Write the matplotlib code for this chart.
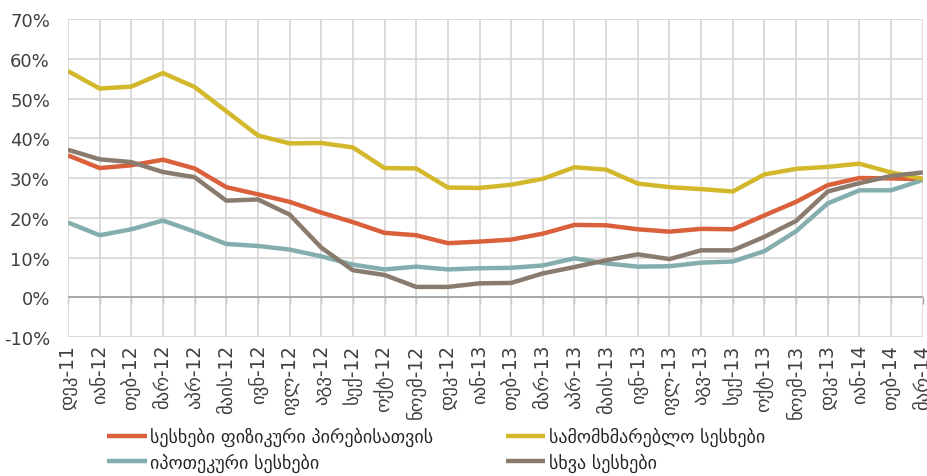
import matplotlib
matplotlib.use('Agg')
import matplotlib.pyplot as plt
import numpy as np
from matplotlib.ticker import FuncFormatter

plt.rcParams['font.family'] = ['DejaVu Sans']

# Months, Dec 2011 - Mar 2014
months = ['დეკ-11', 'იან-12', 'თებ-12', 'მარ-12', 'აპრ-12', 'მაის-12', 'ივნ-12',
          'ივლ-12', 'აგვ-12', 'სექ-12', 'ოქტ-12', 'ნოემ-12', 'დეკ-12', 'იან-13',
          'თებ-13', 'მარ-13', 'აპრ-13', 'მაის-13', 'ივნ-13', 'ივლ-13', 'აგვ-13',
          'სექ-13', 'ოქტ-13', 'ნოემ-13', 'დეკ-13', 'იან-14', 'თებ-14', 'მარ-14']

# Growth rates, %
individuals = [35.7, 32.5, 33.2, 34.6, 32.4, 27.7, 25.9, 24.0, 21.3, 18.9, 16.2, 15.6, 13.6, 14.0,
               14.5, 16.0, 18.2, 18.1, 17.1, 16.5, 17.2, 17.1, 20.6, 24.0, 28.2, 30.0, 29.9, 29.7]
consumer = [56.9, 52.5, 53.0, 56.4, 52.9, 46.8, 40.7, 38.7, 38.8, 37.7, 32.5, 32.4, 27.6, 27.5,
            28.3, 29.8, 32.7, 32.1, 28.6, 27.7, 27.2, 26.6, 30.9, 32.3, 32.8, 33.6, 31.4, 29.8]
mortgage = [18.8, 15.6, 17.1, 19.3, 16.5, 13.4, 12.9, 12.0, 10.3, 8.2, 7.0, 7.7, 7.0, 7.3,
            7.4, 8.0, 9.8, 8.5, 7.7, 7.8, 8.7, 9.0, 11.6, 16.6, 23.6, 26.9, 26.9, 29.5]
other = [37.1, 34.7, 34.0, 31.5, 30.2, 24.3, 24.6, 20.8, 12.5, 6.8, 5.6, 2.6, 2.6, 3.5,
         3.6, 6.0, 7.6, 9.3, 10.8, 9.6, 11.8, 11.8, 15.2, 19.2, 26.6, 28.7, 30.5, 31.4]

names = ['სესხები ფიზიკური პირებისათვის', 'იპოთეკური სესხები',
         'სამომხმარებლო სესხები', 'სხვა სესხები']
colors = ['#D9603B', '#84AEAE', '#D3B82B', '#8A7B6F']

fig = plt.figure(figsize=(9.28, 4.77), dpi=100)
ax = fig.add_axes([68/928, 1-338/477, (922.7-68)/928, (338-20)/477])

x = np.arange(len(months))
for vals, name, c in zip([individuals, mortgage, consumer, other], names, colors):
    ax.plot(x, vals, color=c, lw=3.2, label=name, solid_capstyle='butt')

ax.set_xlim(0, len(months)-1)
ax.set_ylim(-10, 70)
ax.set_yticks(np.arange(-10, 71, 10))
ax.yaxis.set_major_formatter(FuncFormatter(lambda v, p: f'{v:.0f}%'))
ax.set_xticks(x)
ax.set_xticklabels(months, rotation=90, va='top', ha='center')
ax.tick_params(axis='both', length=0, colors='#404040')
ax.tick_params(axis='y', labelsize=13, pad=13)
ax.tick_params(axis='x', labelsize=13.5, pad=5)
for s in ax.spines.values():
    s.set_visible(False)
ax.grid(True, color='#D4D4D4', lw=1.2)
ax.set_axisbelow(True)

# zero line with tick marks
ax.axhline(0, color='#A8A8A8', lw=1.4, zorder=1)
sec = ax.secondary_xaxis(10/80)
sec.set_xticks(x)
sec.set_xticklabels([])
sec.tick_params(length=5, width=1, color='#A8A8A8', direction='out')
sec.spines['bottom'].set_visible(False)

fig.legend(loc='upper left', bbox_to_anchor=(107/928, 1-428/477), ncol=2,
           frameon=False, fontsize=13, handlelength=2.2, handletextpad=0.2,
           columnspacing=4.0, borderpad=0, borderaxespad=0, labelspacing=0.35,
           labelcolor='#262626')

fig.savefig('out.png', dpi=100)
